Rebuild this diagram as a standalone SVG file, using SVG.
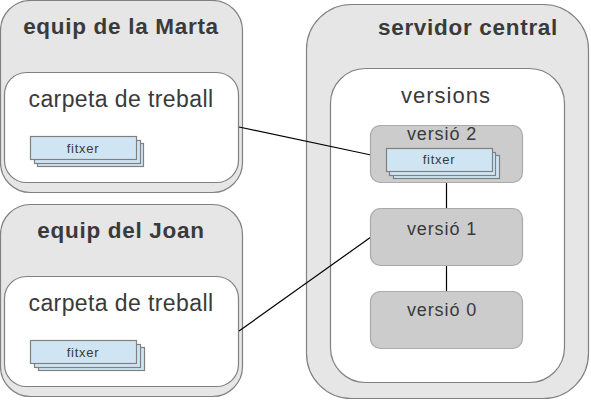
<svg xmlns="http://www.w3.org/2000/svg" width="591" height="402" viewBox="0 0 591 402">
<style>
text{font-family:"Liberation Sans",Arial,sans-serif;fill:#3a3a3a;text-anchor:middle}
.h{font-size:22.500px;font-weight:bold;letter-spacing:.7px}
.s{font-size:23px;letter-spacing:.4px}
.r{font-size:22px;letter-spacing:1px}
.v{font-size:18px;letter-spacing:.9px}
.f{font-size:13px;letter-spacing:.7px}
.o{fill:#e6e6e6;stroke:#808080;stroke-width:1.2}
.i{fill:#fff;stroke:#808080;stroke-width:1.2}
.g{fill:#ccc;stroke:#aaa;stroke-width:1.2}
.d{fill:#cfe5f3;stroke:#808080;stroke-width:1.2}
.c{stroke:#000;stroke-width:1.2;fill:none}
</style>
<g id="marta">
<rect class="o" x="0.500" y="0.500" width="242" height="192" rx="30"/>
<rect class="i" x="4.500" y="72.500" width="234" height="110" rx="22"/>
<text class="h" x="121" y="34">equip de la Marta</text>
<text class="s" x="121" y="107">carpeta de treball</text>
<rect class="d" x="37.500" y="143.500" width="106" height="23"/>
<rect class="d" x="34.500" y="140.500" width="106" height="23"/>
<rect class="d" x="30.500" y="136.500" width="106" height="23"/>
<text class="f" x="83" y="153">fitxer</text>
</g>
<g id="joan">
<rect class="o" x="0.500" y="204.500" width="242" height="192" rx="30"/>
<rect class="i" x="4.500" y="276.500" width="234" height="110" rx="22"/>
<text class="h" x="121" y="238">equip del Joan</text>
<text class="s" x="121" y="311">carpeta de treball</text>
<rect class="d" x="38.500" y="347.500" width="106" height="23"/>
<rect class="d" x="34.500" y="344.500" width="106" height="23"/>
<rect class="d" x="30.500" y="340.500" width="106" height="23"/>
<text class="f" x="83" y="357">fitxer</text>
</g>
<g id="servidor">
<rect class="o" x="306.500" y="4.500" width="282" height="394" rx="45"/>
<rect class="i" x="330.500" y="68.500" width="234" height="314" rx="35"/>
<text class="h" x="468" y="35">servidor central</text>
<text class="r" x="446" y="103">versions</text>
</g>
<g id="connectors">
<path class="c" d="M239 127L371 155"/>
<path class="c" d="M239 331L371 237"/>
<path class="c" d="M446.500 182V209"/>
<path class="c" d="M446.500 265V292"/>
</g>
<g id="v2">
<rect class="g" x="370.500" y="125.500" width="152" height="57" rx="10"/>
<text class="v" x="442" y="140">versió 2</text>
<rect class="d" x="393.500" y="155.500" width="106" height="23"/>
<rect class="d" x="389.500" y="152.500" width="106" height="23"/>
<rect class="d" x="386.500" y="148.500" width="106" height="23"/>
<text class="f" x="439" y="164">fitxer</text>
</g>
<g id="v1">
<rect class="g" x="370.500" y="208.500" width="152" height="57" rx="10"/>
<text class="v" x="442" y="235">versió 1</text>
</g>
<g id="v0">
<rect class="g" x="370.500" y="291.500" width="152" height="57" rx="10"/>
<text class="v" x="442" y="316">versió 0</text>
</g>
</svg>
